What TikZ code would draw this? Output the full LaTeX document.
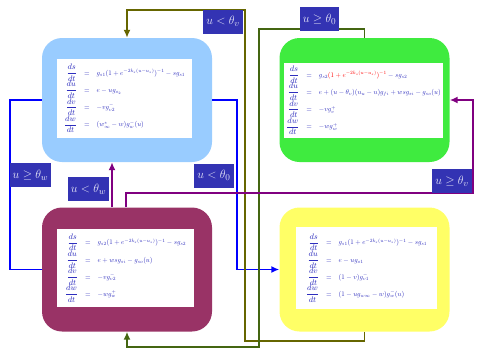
\documentclass[tikz,border=0pt]{standalone}
\usepackage{amsmath}
\usepackage{graphicx}
\usetikzlibrary{arrows.meta}
\definecolor{boxblue}{HTML}{99CCFF}
\definecolor{boxgreen}{HTML}{3FEB3F}
\definecolor{boxpurple}{HTML}{993366}
\definecolor{boxyellow}{HTML}{FFFF66}
\definecolor{lineolive}{HTML}{666600}
\definecolor{linegreen}{HTML}{446611}
\definecolor{linepurple}{HTML}{800080}
\definecolor{labelbg}{HTML}{3333B3}
\definecolor{labeltext}{HTML}{E8E8F8}
\definecolor{eqtext}{HTML}{2E2EBE}
\newcommand{\eqfrac}[2]{\fontsize{8}{9}\selectfont$\dfrac{#1}{#2}$}
\newcommand{\eqrhs}[1]{\scalebox{0.69}{\fontsize{10}{12}\selectfont$#1$}}
\newcommand{\eqsym}{\fontsize{6.5}{7}\selectfont$=$}
\newcommand{\myeqs}[4]{\color{eqtext}\setlength{\tabcolsep}{3.5pt}\begin{tabular}{@{}rcl@{}}
\eqfrac{ds}{dt} & \eqsym & \eqrhs{#1}\\[1.2pt]
\eqfrac{du}{dt} & \eqsym & \eqrhs{#2}\\[1.2pt]
\eqfrac{dv}{dt} & \eqsym & \eqrhs{#3}\\[1.2pt]
\eqfrac{dw}{dt} & \eqsym & \eqrhs{#4}
\end{tabular}}
\tikzset{
  statebox/.style={minimum width=170pt, minimum height=124pt, rounded corners=20pt, inner sep=0pt, draw=none},
  eqbox/.style={fill=white, inner sep=0pt, align=center},
  condlabel/.style={fill=labelbg, text=labeltext, font=\fontsize{13}{15}\selectfont, inner sep=3pt, minimum height=24pt},
  conn/.style={line width=1.8pt},
  tip/.style={-{Latex[length=8pt,width=7pt]}}
}
\begin{document}
\begin{tikzpicture}[x=1pt,y=-1pt]
\useasboundingbox (0,0) rectangle (478,351);
% state boxes
\node[statebox, fill=boxblue] (blueBox) at (127,100) {};
\node[statebox, fill=boxgreen] (greenBox) at (364.5,100) {};
\node[statebox, fill=boxpurple] (purpleBox) at (127,269.5) {};
\node[statebox, fill=boxyellow] (yellowBox) at (364.5,269.5) {};
% equation panels
\node[eqbox, minimum width=135pt, minimum height=79pt] (blueEq) at (124.5,98.5)
 {\myeqs{g_{s1}(1+e^{-2k_s(u-u_s)})^{-1}-sg_{s1}}{e-ug_{o_2}}{-vg^-_{v2}}{(w^*_\infty-w)g^-_w(u)}};
\node[eqbox, minimum width=159pt, minimum height=75pt] (greenEq) at (363.5,100.5)
 {\myeqs{g_{s2}\textcolor{red}{(1+e^{-2k_s(u-u_s)})^{-1}}-sg_{s2}}{e+(u-\theta_v)(u_u-u)g_{fi}+wsg_{si}-g_{so}(u)}{-vg^+_v}{-wg^+_w}};
\node[eqbox, minimum width=137pt, minimum height=78pt] (purpleEq) at (125.5,268)
 {\myeqs{g_{s2}(1+e^{-2k_s(u-u_s)})^{-1}-sg_{s2}}{e+wsg_{si}-g_{so}(u)}{-vg^-_{v2}}{-wg^+_w}};
\node[eqbox, minimum width=141pt, minimum height=82pt] (yellowEq) at (366.5,268)
 {\myeqs{g_{s1}(1+e^{-2k_s(u-u_s)})^{-1}-sg_{s1}}{e-ug_{o1}}{(1-v)g^-_{v1}}{(1-ug_{w\infty}-w)g^-_w(u)}};
% connectors
\draw[conn, blue] (blueBox.west) -- ++(-32,0) |- (purpleBox.west);
\draw[conn, blue, tip] (blueBox.east) -- ++(25,0) |- (yellowBox.west);
\coordinate (oliveA) at (245,341);
\coordinate (oliveB) at (245,10);
\draw[conn, lineolive, tip] (yellowBox.south) |- (oliveA) -- (oliveB) -| (blueBox.north);
\coordinate (greenA) at (259,29);
\coordinate (greenB) at (259,347);
\draw[conn, linegreen, tip] (greenBox.north) |- (greenA) -- (greenB) -| (purpleBox.south);
\draw[conn, linepurple, tip] ([xshift=-15pt]purpleBox.north) -- ([xshift=-15pt]blueBox.south);
\coordinate (purpA) at (126,193);
\coordinate (purpB) at (473,193);
\draw[conn, linepurple, tip] (purpleBox.north -| purpA) -- (purpA) -- (purpB) |- (greenBox.east);
% labels
\node[condlabel] (lw1) at (30.5,175) {$u\geq\theta_w$};
\node[condlabel] (l01) at (214,175.5) {$u<\theta_0$};
\node[condlabel] (lv1) at (223,21.5) {$u<\theta_v$};
\node[condlabel] (l02) at (319.5,19) {$u\geq\theta_0$};
\node[condlabel] (lw2) at (88.5,189) {$u<\theta_w$};
\node[condlabel] (lv2) at (452,181) {$u\geq\theta_v$};
\end{tikzpicture}
\end{document}
